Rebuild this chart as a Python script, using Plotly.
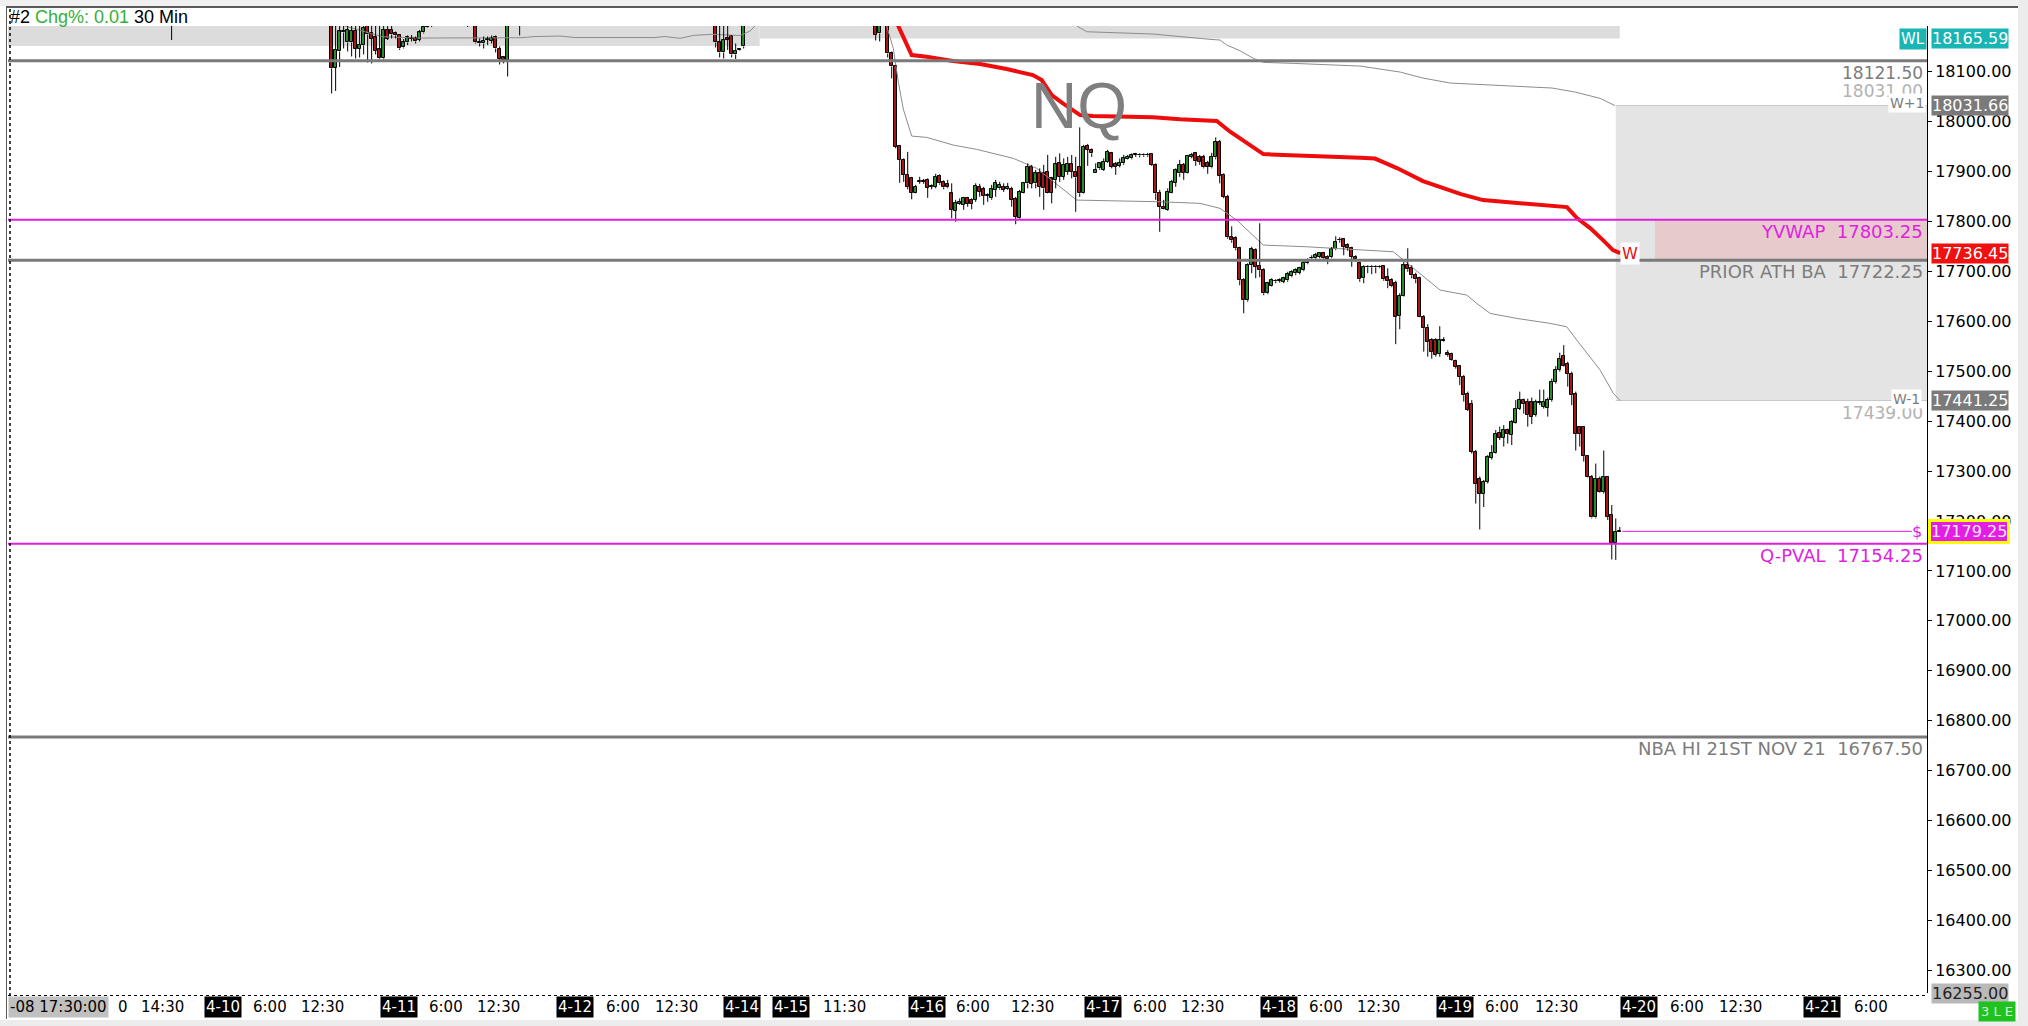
import plotly.graph_objects as go

# ---------------- data: 30-min NQ bars (slot = bar number on the chart) ----------------
early_slot = [-40] + list(range(0, 26)) + [34] + list(range(36, 45)) + [47] + list(range(96, 104))
early_open = [18210,
              18230, 18107, 18140, 18181, 18158, 18158, 18181, 18145, 18152, 18200, 18176, 18168, 18144,
              18126, 18183, 18184, 18176, 18173, 18148, 18158, 18165, 18166, 18163, 18178, 18190, 18192,
              18200,
              18205, 18158, 18156, 18163, 18161, 18168, 18145, 18128, 18123,
              18200,
              18200, 18158, 18138, 18166, 18170, 18134, 18142, 18150]
early_high = [18230,
              18250, 18205, 18200, 18195, 18198, 18200, 18196, 18197, 18205, 18215, 18195, 18200, 18195,
              18200, 18195, 18192, 18180, 18174, 18165, 18172, 18173, 18170, 18183, 18200, 18205, 18206,
              18212,
              18215, 18166, 18170, 18170, 18172, 18172, 18150, 18130, 18220,
              18215,
              18215, 18195, 18195, 18195, 18173, 18156, 18146, 18220]
early_low = [18163,
             18056, 18061, 18109, 18146, 18140, 18130, 18126, 18128, 18134, 18118, 18116, 18134, 18124,
             18124, 18163, 18166, 18166, 18143, 18146, 18153, 18160, 18156, 18160, 18176, 18188, 18189,
             18189,
             18156, 18150, 18146, 18153, 18156, 18138, 18114, 18116, 18090,
             18172,
             18148, 18128, 18126, 18143, 18128, 18125, 18141, 18146]
early_close = [18215,
               18106, 18143, 18180, 18178, 18183, 18181, 18145, 18153, 18188, 18174, 18165, 18141, 18126,
               18183, 18165, 18174, 18172, 18146, 18158, 18168, 18167, 18160, 18178, 18190, 18196, 18198,
               18205,
               18158, 18156, 18161, 18165, 18166, 18146, 18125, 18122, 18210,
               18205,
               18158, 18138, 18163, 18163, 18134, 18141, 18144, 18200]

mid_slot = [136, 137] + list(range(139, 224))
mid_open = [18215, 18176,
            18205, 18136, 18111, 17951, 17923, 17893, 17886, 17857, 17879, 17880,
            17883, 17869, 17869, 17891, 17879, 17875, 17856, 17821, 17835, 17833,
            17846, 17843, 17843, 17869, 17864, 17851, 17846, 17863, 17866, 17869,
            17865, 17864, 17844, 17806, 17857, 17876, 17908, 17876, 17896, 17896,
            17899, 17886, 17883, 17916, 17889, 17899, 17914, 17899, 17909, 17856,
            17951, 17943, 17896, 17906, 17903, 17919, 17936, 17915, 17911, 17916,
            17924, 17926, 17933, 17933, 17932, 17933, 17935, 17913, 17857, 17829,
            17823, 17857, 17877, 17896, 17913, 17896, 17929, 17936, 17929, 17928,
            17917, 17908, 17928, 17959, 17893]
mid_high = [18225, 18210,
            18215, 18140, 18113, 17953, 17926, 17939, 17889, 17873, 17889, 17885,
            17886, 17874, 17895, 17894, 17882, 17883, 17876, 17843, 17846, 17849,
            17849, 17846, 17876, 17875, 17869, 17856, 17873, 17883, 17879, 17876,
            17877, 17869, 17849, 17863, 17879, 17916, 17913, 17903, 17906, 17913,
            17933, 17889, 17929, 17936, 17926, 17929, 17933, 17929, 17988, 17953,
            17955, 17946, 17916, 17917, 17926, 17943, 17939, 17919, 17926, 17933,
            17933, 17936, 17937, 17936, 17936, 17937, 17936, 17916, 17863, 17843,
            17866, 17883, 17906, 17923, 17917, 17933, 17937, 17939, 17933, 17933,
            17921, 17937, 17968, 17963, 17896]
mid_low = [18162, 18160,
           18128, 18086, 17946, 17877, 17879, 17864, 17844, 17856, 17875, 17875,
           17847, 17864, 17866, 17873, 17864, 17866, 17806, 17799, 17833, 17823,
           17829, 17824, 17839, 17849, 17833, 17839, 17843, 17849, 17863, 17859,
           17863, 17829, 17794, 17803, 17856, 17866, 17866, 17866, 17849, 17823,
           17856, 17836, 17866, 17879, 17883, 17893, 17886, 17819, 17849, 17855,
           17911, 17929, 17896, 17903, 17901, 17917, 17906, 17893, 17908, 17913,
           17923, 17924, 17929, 17928, 17929, 17929, 17911, 17843, 17779, 17823,
           17821, 17856, 17869, 17889, 17883, 17895, 17926, 17911, 17913, 17906,
           17895, 17906, 17924, 17876, 17846]
mid_close = [18173, 18200,
             18136, 18110, 17949, 17923, 17893, 17869, 17857, 17869, 17880, 17879,
             17867, 17870, 17889, 17876, 17868, 17868, 17823, 17837, 17839, 17847,
             17835, 17835, 17871, 17859, 17851, 17852, 17864, 17876, 17873, 17863,
             17869, 17843, 17809, 17859, 17876, 17909, 17875, 17896, 17869, 17866,
             17857, 17857, 17914, 17889, 17913, 17915, 17899, 17888, 17856, 17949,
             17943, 17936, 17903, 17916, 17919, 17939, 17909, 17909, 17917, 17926,
             17929, 17933, 17934, 17932, 17933, 17932, 17913, 17856, 17829, 17824,
             17859, 17879, 17903, 17913, 17897, 17931, 17933, 17921, 17919, 17908,
             17909, 17929, 17959, 17891, 17849]

late_slot = list(range(224, 323))
late_open = [17849, 17768, 17766, 17746, 17682, 17642, 17712, 17742, 17710, 17702,
             17656, 17670, 17680, 17681, 17679, 17682, 17690, 17696, 17697, 17702,
             17716, 17726, 17726, 17729, 17736, 17729, 17728, 17744, 17762, 17764,
             17752, 17746, 17729, 17716, 17686, 17708, 17709, 17708, 17709, 17710,
             17688, 17682, 17677, 17610, 17650, 17712, 17706, 17692, 17686, 17609,
             17586, 17562, 17562, 17534, 17561, 17536, 17534, 17521, 17510, 17489,
             17455, 17435, 17339, 17285, 17254, 17279, 17327, 17337, 17377, 17367,
             17382, 17372, 17397, 17425, 17443, 17439, 17439, 17412, 17437, 17429,
             17427, 17442, 17479, 17502, 17530, 17515, 17495, 17454, 17389, 17389,
             17330, 17289, 17207, 17285, 17258, 17289, 17212, 17156, 17178]
late_high = [17853, 17790, 17770, 17749, 17686, 17716, 17749, 17746, 17796, 17706,
             17679, 17686, 17684, 17686, 17689, 17699, 17702, 17706, 17709, 17722,
             17726, 17732, 17737, 17737, 17739, 17732, 17749, 17770, 17768, 17766,
             17756, 17749, 17732, 17719, 17712, 17712, 17712, 17712, 17712, 17712,
             17706, 17686, 17681, 17656, 17719, 17746, 17712, 17697, 17689, 17612,
             17594, 17566, 17566, 17590, 17568, 17542, 17537, 17523, 17512, 17492,
             17459, 17442, 17342, 17289, 17282, 17332, 17352, 17382, 17389, 17392,
             17385, 17402, 17442, 17459, 17445, 17445, 17447, 17443, 17463, 17463,
             17447, 17485, 17510, 17537, 17552, 17519, 17499, 17459, 17390, 17390,
             17332, 17292, 17315, 17289, 17341, 17290, 17232, 17205, 17188]
late_low = [17765, 17757, 17742, 17672, 17616, 17639, 17696, 17686, 17688, 17652,
            17654, 17669, 17676, 17677, 17676, 17679, 17688, 17692, 17694, 17700,
            17714, 17722, 17724, 17726, 17721, 17714, 17726, 17742, 17757, 17732,
            17741, 17709, 17719, 17679, 17676, 17696, 17694, 17696, 17706, 17681,
            17666, 17668, 17554, 17584, 17649, 17699, 17686, 17676, 17608, 17539,
            17529, 17525, 17529, 17529, 17559, 17529, 17521, 17505, 17472, 17439,
            17420, 17335, 17235, 17183, 17228, 17275, 17323, 17335, 17362, 17349,
            17355, 17352, 17395, 17422, 17415, 17389, 17394, 17409, 17432, 17425,
            17409, 17439, 17475, 17499, 17509, 17469, 17432, 17341, 17349, 17319,
            17287, 17205, 17205, 17257, 17255, 17202, 17123, 17122, 17178]
late_close = [17768, 17762, 17746, 17682, 17642, 17712, 17744, 17709, 17702, 17656,
              17676, 17682, 17681, 17682, 17686, 17694, 17699, 17702, 17706, 17717,
              17722, 17727, 17732, 17736, 17726, 17724, 17744, 17759, 17763, 17749,
              17746, 17729, 17724, 17684, 17709, 17709, 17708, 17709, 17708, 17684,
              17680, 17670, 17609, 17650, 17712, 17704, 17692, 17684, 17609, 17586,
              17559, 17539, 17532, 17562, 17562, 17532, 17523, 17509, 17489, 17452,
              17422, 17339, 17275, 17255, 17279, 17329, 17337, 17375, 17367, 17383,
              17375, 17399, 17425, 17443, 17434, 17412, 17409, 17439, 17438, 17439,
              17443, 17479, 17502, 17525, 17510, 17495, 17452, 17375, 17375, 17330,
              17289, 17207, 17285, 17258, 17289, 17208, 17156, 17178, 17179.25]

# weekly VWAP (red) and its bands (thin gray)
vwap_slot = [138.3, 141.65, 145.0, 148.75, 155.3, 162.1, 168.75, 175.3, 177.5, 180.0, 182.8, 187.1,
             190.3, 195.3, 205.3, 212.1, 221.25, 224.6, 228.75, 232.9, 237.9, 248.75, 257.1, 260.8,
             266.3, 272.8, 282.3, 287.8, 300.3, 308.8, 311.3, 314.6, 317.8, 320.3, 322.1]
vwap_price = [18283, 18190.9, 18132.8, 18129.4, 18120.8, 18114.8, 18104.8, 18092.8, 18082.8, 18052.7,
              18036.1, 18012.7, 18010.7, 18009.3, 18008.1, 18004.1, 18000.7, 17979.3, 17956.0, 17934.6,
              17932.6, 17930.6, 17927.2, 17925.6, 17906.6, 17880.5, 17854.5, 17842.5, 17834.5, 17828.5,
              17806.5, 17786.4, 17762.4, 17742.4, 17736.45]
up_slot = [183.3, 186.3, 188.75, 195.3, 205.3, 219.6, 222.1, 223.75, 227.1, 230.4, 232.9, 240.4,
           257.1, 267.1, 272.8, 279.6, 288.8, 305.1, 310.8, 317.1, 320.8]
up_price = [18223, 18190.9, 18179.5, 18177.5, 18174.9, 18164.3, 18162.9, 18152.9, 18141.4, 18126.2,
            18118.2, 18116.2, 18110.8, 18098.8, 18086.8, 18076.8, 18072.8, 18066.8, 18058.8, 18046.1,
            18031.66]
lo_slot = [137.1, 138.75, 140.4, 141.65, 142.9, 145.0, 148.75, 155.4, 161.25, 170.4, 176.25, 180.4,
           186.25, 194.6, 207.1, 217.1, 222.1, 226.25, 229.6, 232.9, 243.75, 250.3, 265.4, 267.9,
           277.1, 283.75, 286.25, 289.6, 296.25, 304.6, 308.75, 311.25, 317.1, 320.4, 322.1]
lo_price = [18263.2, 18190.9, 18146.3, 18079.4, 18024.7, 17970.6, 17968.0, 17952.6, 17944.0, 17926.0,
            17906.0, 17879.1, 17842.5, 17841.1, 17839.1, 17835.9, 17825.9, 17802.4, 17776.4, 17752.4,
            17749.0, 17745.8, 17739.0, 17722.4, 17662.3, 17652.3, 17635.6, 17615.6, 17605.6, 17595.6,
            17588.8, 17562.2, 17502.1, 17455.4, 17441.25]
prev_slot = [2.1, 3.3, 5.3, 12.8, 22.1, 47.1, 50.8, 57.1, 60.8, 80.8, 83.3, 87.1, 90.6, 95.3,
             102.1, 104.6, 105.8, 107.1]
prev_price = [18233, 18190.9, 18186.3, 18169.5, 18166.9, 18167.5, 18169.9, 18170.9, 18167.9, 18167.9,
              18169.9, 18166.3, 18172.3, 18174.3, 18171.9, 18180.9, 18190.9, 18233]

# levels
gray_levels = [18121.50, 17722.25, 16767.50]
magenta_levels = [17803.25, 17154.25]
last_price = 17179.25
w_plus1, w_minus1 = 18031.66, 17441.25
wl_level = 18165.59
ytick_vals = [16300, 16400, 16500, 16600, 16700, 16800, 16900, 17000, 17100, 17200, 17300,
              17400, 17500, 17600, 17700, 17800, 17900, 18000, 18100]
xtick_slot = [-52.2, -42.4, -27.2, -15.4, -2.2, 16.8, 28.6, 41.6, 60.8, 72.8, 86.1, 102.6, 114.8,
              128.1, 148.8, 160.3, 175.3, 192.8, 204.6, 217.8, 236.8, 248.6, 261.8, 280.8, 292.6,
              306.1, 326.8, 338.8, 352.1, 372.6, 384.8]
xtick_text = ["0", "14:30", "4-10", "6:00", "12:30", "4-11", "6:00", "12:30", "4-12", "6:00", "12:30",
              "4-14", "4-15", "11:30", "4-16", "6:00", "12:30", "4-17", "6:00", "12:30", "4-18",
              "6:00", "12:30", "4-19", "6:00", "12:30", "4-20", "6:00", "12:30", "4-21", "6:00"]

# ---------------- layout geometry ----------------
W, H = 2028, 1026
ML, MR, MT, MB = 8, 101, 26, 33
PW, PH = W - ML - MR, H - MT - MB
XR = [-80.9, 398.8]
YR = [16255, 18191]


def pxx(px):
    return (px - ML) / PW


def pxy(py):
    return (H - MB - py) / PH


GRAY = '#7c7c7c'
LGRAY = '#b2b2b2'
MAG = '#e01ee0'
RED = '#ee0c0c'
CYAN = '#19b4b4'
INC = '#2a8a2a'
DEC = '#a51717'

slots = early_slot + mid_slot + late_slot
o = early_open + mid_open + late_open
h = early_high + mid_high + late_high
l = early_low + mid_low + late_low
c = early_close + mid_close + late_close

body_base = [min(a, b) for a, b in zip(o, c)]
body_h = [max(abs(b - a), 1.2) for a, b in zip(o, c)]
body_col = [INC if b >= a else DEC for a, b in zip(o, c)]
wx, wy = [], []
for s, a, hi, lo, b in zip(slots, o, h, l, c):
    top, bot = max(a, b), min(a, b)
    if hi > top:
        wx += [s, s, None]
        wy += [hi, top, None]
    if lo < bot:
        wx += [s, s, None]
        wy += [bot, lo, None]

fig = go.Figure()
for xs, ys in [(prev_slot, prev_price), (up_slot, up_price), (lo_slot, lo_price)]:
    fig.add_trace(go.Scatter(x=xs, y=ys, mode='lines', line=dict(color='#8c8c8c', width=1),
                             hoverinfo='skip', showlegend=False))
fig.add_trace(go.Scatter(x=vwap_slot, y=vwap_price, mode='lines', line=dict(color=RED, width=4),
                         hoverinfo='skip', showlegend=False))
fig.add_trace(go.Scatter(x=wx, y=wy, mode='lines', line=dict(color='black', width=1),
                         hoverinfo='skip', showlegend=False))
fig.add_trace(go.Bar(x=slots, y=body_h, base=body_base, width=0.8,
                     marker=dict(color=body_col, line=dict(color='black', width=1)),
                     hoverinfo='skip', showlegend=False))

shapes = []
# zones
shapes.append(dict(type='rect', xref='x', yref='y', x0=XR[0], x1=107, y0=18151, y1=YR[1],
                   fillcolor='#dcdcdc', line=dict(width=0), layer='below'))
shapes.append(dict(type='rect', xref='x', yref='y', x0=107, x1=322, y0=18166, y1=YR[1],
                   fillcolor='#dcdcdc', line=dict(width=0), layer='below'))
shapes.append(dict(type='rect', xref='x', yref='y', x0=321, x1=XR[1], y0=w_minus1, y1=w_plus1,
                   fillcolor='#e4e4e4', line=dict(width=0), layer='below'))
shapes.append(dict(type='rect', xref='x', yref='y', x0=330.8, x1=XR[1], y0=17722.25, y1=17803.25,
                   fillcolor='#e7cbcc', line=dict(width=0), layer='below'))
shapes.append(dict(type='line', xref='x', yref='y', x0=321, x1=XR[1], y0=w_plus1, y1=w_plus1,
                   line=dict(color='#c8c8c8', width=1), layer='below'))
shapes.append(dict(type='line', xref='x', yref='y', x0=321, x1=XR[1], y0=w_minus1, y1=w_minus1,
                   line=dict(color='#c8c8c8', width=1), layer='below'))
for lv in gray_levels:
    shapes.append(dict(type='line', xref='paper', yref='y', x0=0, x1=1, y0=lv, y1=lv,
                       line=dict(color='#7a7a7a', width=3)))
for lv in magenta_levels:
    shapes.append(dict(type='line', xref='paper', yref='y', x0=0, x1=1, y0=lv, y1=lv,
                       line=dict(color=MAG, width=2)))
shapes.append(dict(type='line', xref='x', yref='y', x0=322.6, x1=395, y0=last_price, y1=last_price,
                   line=dict(color=MAG, width=1)))
# frame decorations
shapes.append(dict(type='rect', xref='paper', yref='paper', x0=pxx(0), x1=pxx(W), y0=pxy(6), y1=pxy(0),
                   fillcolor='#f0f0f0', line=dict(width=0)))
shapes.append(dict(type='rect', xref='paper', yref='paper', x0=pxx(2018), x1=pxx(W), y0=pxy(H), y1=pxy(0),
                   fillcolor='#ececec', line=dict(width=0)))
shapes.append(dict(type='rect', xref='paper', yref='paper', x0=pxx(0), x1=pxx(W), y0=pxy(H), y1=pxy(1020),
                   fillcolor='#ececec', line=dict(width=0)))
shapes.append(dict(type='line', xref='paper', yref='paper', x0=pxx(6), x1=pxx(2018), y0=pxy(7), y1=pxy(7),
                   line=dict(color='#5a5a5a', width=2)))
shapes.append(dict(type='line', xref='paper', yref='paper', x0=pxx(6.5), x1=pxx(6.5), y0=pxy(1019), y1=pxy(7),
                   line=dict(color='#5a5a5a', width=1)))
shapes.append(dict(type='line', xref='paper', yref='paper', x0=pxx(10), x1=pxx(10), y0=pxy(996), y1=pxy(8),
                   line=dict(color='black', width=1.5, dash='dot')))
shapes.append(dict(type='line', xref='paper', yref='paper', x0=pxx(8), x1=pxx(1927), y0=pxy(995.5), y1=pxy(995.5),
                   line=dict(color='black', width=1, dash='dot')))

ann = []


def txt(x, y, text, size, color, xref='paper', yref='paper', xanchor='center', yanchor='middle',
        bg=None, border=None, bw=0, pad=0, family='DejaVu Sans', yshift=0, xshift=0):
    d = dict(x=x, y=y, xref=xref, yref=yref, text=text, showarrow=False, xanchor=xanchor,
             yanchor=yanchor, font=dict(family=family, size=size, color=color), borderpad=pad,
             yshift=yshift, xshift=xshift)
    if bg:
        d['bgcolor'] = bg
    if border:
        d['bordercolor'] = border
        d['borderwidth'] = bw
    ann.append(d)


NB = '\u00a0\u00a0'
RX = pxx(1924)
# header + symbol
txt(pxx(9), pxy(17), '#2 <span style="color:#36b036">Chg%: 0.01</span> 30 Min', 18, 'black',
    xanchor='left', family='Liberation Sans')
txt(pxx(1079), pxy(106), 'NQ', 64, '#7f7f7f', family='Liberation Sans')
# level labels inside plot
txt(RX, 18121.50, '18121.50', 17, GRAY, yref='y', xanchor='right', yanchor='top', yshift=-1)
txt(RX, 18031.00, '18031.00', 17, LGRAY, yref='y', xanchor='right', yanchor='bottom', yshift=4)
txt(pxx(1926), w_plus1, 'W+1', 14, GRAY, yref='y', xanchor='right', bg='white', pad=1, yshift=3)
txt(RX, 17803.25, 'YVWAP' + NB + '17803.25', 18, MAG, yref='y', xanchor='right', yanchor='top')
txt(RX, 17722.25, 'PRIOR ATH BA' + NB + '17722.25', 18, GRAY, yref='y', xanchor='right', yanchor='top')
txt(322, 17736.45, 'W', 16, RED, xref='x', yref='y', xanchor='left', bg='white', pad=1)
txt(RX, 17439.00, '17439.00', 17, LGRAY, yref='y', xanchor='right', yanchor='top')
txt(pxx(1922), w_minus1, 'W-1', 14, GRAY, yref='y', xanchor='right', bg='white', pad=1, yshift=1)
txt(pxx(1917), last_price, '$', 16, MAG, yref='y')
txt(RX, 17154.25, 'Q-PVAL' + NB + '17154.25', 18, MAG, yref='y', xanchor='right', yanchor='top')
txt(RX, 16767.50, 'NBA HI 21ST NOV 21' + NB + '16767.50', 18, GRAY, yref='y', xanchor='right', yanchor='top')
# price boxes on the axis
AX = pxx(1931)
txt(pxx(1927), wl_level, 'WL', 15, 'white', yref='y', xanchor='right', bg=CYAN, pad=1)
txt(AX, wl_level, '18165.59', 16, 'white', yref='y', xanchor='left', bg=CYAN, pad=0)
txt(AX, w_plus1, '18031.66', 16, 'white', yref='y', xanchor='left', bg='#7a7a7a', pad=0)
txt(AX, 17736.45, '17736.45', 16, 'white', yref='y', xanchor='left', bg='#f01010', pad=0)
txt(AX, w_minus1, '17441.25', 16, 'white', yref='y', xanchor='left', bg='#7a7a7a', pad=0)
txt(pxx(1928), last_price, '17179.25', 16, '#fbe6fb', yref='y', xanchor='left', bg='#e21ee2',
    border='#ffff00', bw=3, pad=0)
txt(AX, 16255.00, '16255.00', 16, '#222222', yref='y', xanchor='left', bg='#b9b9b9', pad=0)
txt(pxx(1997), pxy(1011), '3 L E', 13, '#d8f5d8', bg='#1fc21f', pad=2)
# x-axis labels
XY = pxy(1007)
for s, t in zip(xtick_slot, xtick_text):
    if '-' in t:
        txt(s, XY, t, 15, 'white', xref='x', bg='black', pad=1)
    else:
        txt(s, XY, t, 15, 'black', xref='x')
txt(pxx(8), XY, '-08 17:30:00', 15, 'black', xanchor='left', bg='#c0c0c0', pad=1)

fig.update_layout(
    width=W, height=H, margin=dict(l=ML, r=MR, t=MT, b=MB, autoexpand=False),
    paper_bgcolor='white', plot_bgcolor='white', showlegend=False,
    xaxis=dict(range=XR, showticklabels=False, showgrid=False, zeroline=False, showline=False,
               ticks='', fixedrange=True),
    yaxis=dict(range=YR, side='right', tickvals=ytick_vals, ticktext=[f'{v:.2f}' for v in ytick_vals],
               showgrid=False, zeroline=False, showline=True, linecolor='black', linewidth=1,
               ticks='outside', ticklen=4, tickcolor='black',
               tickfont=dict(family='DejaVu Sans', size=16, color='black'), fixedrange=True),
    shapes=shapes, annotations=ann, bargap=0,
)
fig.write_html('out.html', config={'displayModeBar': False},
               post_script="document.body.style.margin='0px';document.body.style.overflow='hidden';")
